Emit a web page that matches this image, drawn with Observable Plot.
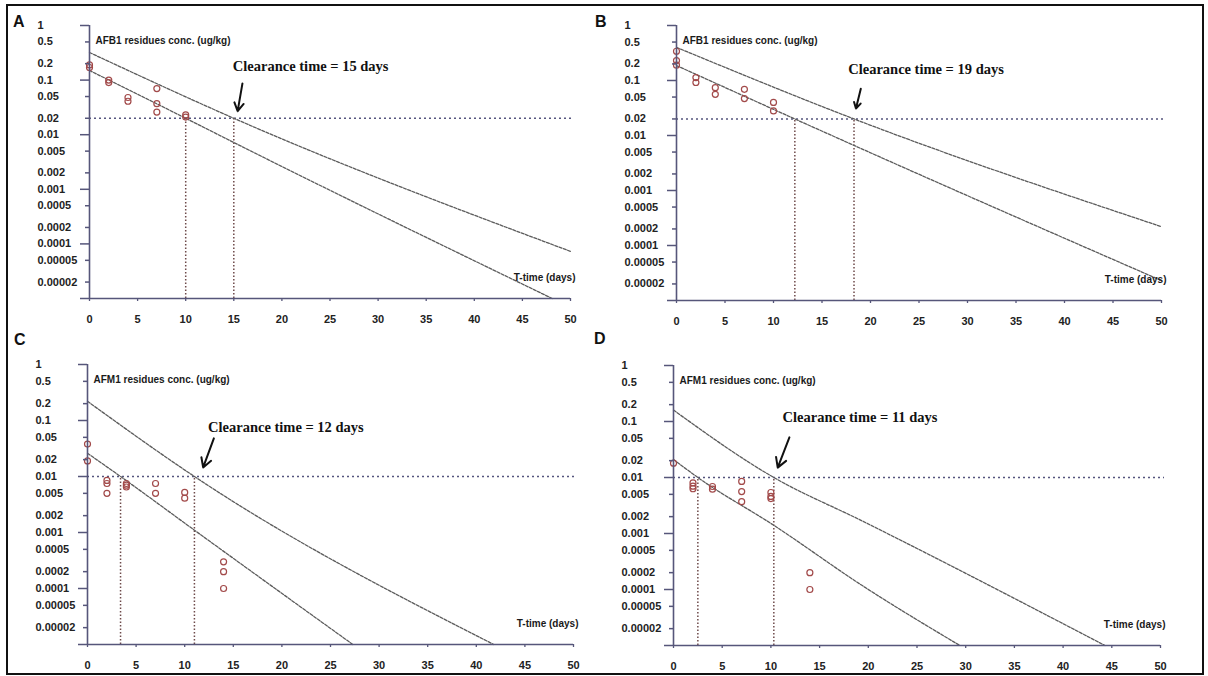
<!DOCTYPE html>
<html><head><meta charset="utf-8">
<script src="https://cdn.jsdelivr.net/npm/d3@7"></script>
<script src="https://cdn.jsdelivr.net/npm/@observablehq/plot@0.6"></script>
<style>
body{margin:0;background:#fff;}
#wrap{position:relative;width:1208px;height:676px;overflow:hidden;background:#fff;}
#frame{position:absolute;left:6px;top:4px;width:1198px;height:671px;border:2.5px solid #111;border-right-width:2px;border-bottom-width:2px;box-sizing:border-box;}
.panel{position:absolute;}
.letter{position:absolute;font:bold 16px "Liberation Sans",Arial,sans-serif;color:#111;line-height:16px;}
</style></head><body>
<div id="wrap"><div id="frame"></div></div>
<script>
// ---- tick values / labels ----
const xTicks = [0,5,10,15,20,25,30,35,40,45,50];
const yTickValues = [1,0.5,0.2,0.1,0.05,0.02,0.01,0.005,0.002,0.001,0.0005,0.0002,0.0001,0.00005,0.00002];
const yTickLabels = ["1","0.5","0.2","0.1","0.05","0.02","0.01","0.005","0.002","0.001","0.0005","0.0002","0.0001","0.00005","0.00002"];
const decadeTicks = [1,0.1,0.01,0.001,0.0001];
const minorTicks = [0.5,0.2,0.05,0.02,0.005,0.002,0.0005,0.0002,0.00005,0.00002];

// ---- Panel A (AFB1) ----
const daysA = [0,0,2,2,4,4,7,7,7,10,10];
const concA = [0.19,0.17,0.1,0.09,0.048,0.041,0.07,0.037,0.026,0.023,0.021];
const upperDaysA = [0,15,50];
const upperConcA = [0.32,0.02,7.3e-5];
const lowerDaysA = [0,10,15,48.1];
const lowerConcA = [0.15,0.02,0.0072,1e-5];
const limitA = 0.02, verticalsA = [10,15];

// ---- Panel B (AFB1) ----
const daysB = [0,0,0,2,2,4,4,7,7,10,10];
const concB = [0.34,0.23,0.19,0.113,0.092,0.074,0.056,0.069,0.047,0.04,0.028];
const upperDaysB = [0,18.3,50];
const upperConcB = [0.40,0.02,2.2e-4];
const lowerDaysB = [0,12.2,18.3,50];
const lowerConcB = [0.187,0.02,0.0066,2.3e-5];
const limitB = 0.02, verticalsB = [12.2,18.3];

// ---- Panel C (AFM1) ----
const daysC = [0,0,2,2,2,4,4,4,7,7,10,10,14,14,14];
const concC = [0.038,0.019,0.0085,0.0075,0.005,0.0075,0.007,0.0065,0.0075,0.005,0.0052,0.0041,0.0003,0.0002,0.0001];
const upperDaysC = [0,11,41.8];
const upperConcC = [0.22,0.01,1e-5];
const lowerDaysC = [0,3.4,11,27.3];
const lowerConcC = [0.026,0.01,0.0011,1e-5];
const limitC = 0.01, verticalsC = [3.4,11];

// ---- Panel D (AFM1) ----
const daysD = [0,2,2,2,4,4,7,7,7,10,10,10,14,14];
const concD = [0.018,0.008,0.007,0.0063,0.0069,0.0062,0.0085,0.0056,0.0037,0.0054,0.0046,0.0042,0.0002,0.0001];
const upperDaysD = [0,10.3,19.3,44.3];
const upperConcD = [0.16,0.01,0.0017,1e-5];
const lowerDaysD = [0,2.5,10.3,19.3,29.4];
const lowerConcD = [0.021,0.01,0.0014,1.2e-4,1e-5];
const limitD = 0.01, verticalsD = [2.5,10.3];

const zip = (xs, ys) => xs.map((x, i) => ({x, y: ys[i]}));

const axisColor = "#56567a";
const lineColor = "#5c5c5c";
const dotColor = "#a24a4a";
const vColor = "#6e4a4a";
const hColor = "#55557e";
const sans = '"Liberation Sans", Arial, sans-serif';
const serif = '"Liberation Serif", "Times New Roman", serif';

function panel(c) {
  return Plot.plot({
    width: c.w, height: c.h,
    marginLeft: c.ml, marginRight: c.mr, marginTop: c.mt, marginBottom: c.mb,
    x: {domain: [0, 50], axis: null},
    y: {type: "log", domain: [1e-5, 1], axis: null},
    style: {background: "transparent", overflow: "visible", fontFamily: sans},
    marks: [
      // dotted reference lines
      Plot.ruleY([c.limit], {x1: 0, x2: 50, insetRight: -4, stroke: hColor, strokeWidth: 1.5, strokeDasharray: "2,3"}),
      Plot.ruleX(c.verticals, {y1: 1e-5, y2: c.limit, stroke: vColor, strokeWidth: 1.5, strokeDasharray: "1.5,2"}),
      // confidence lines
      Plot.line(c.upper, {x: "x", y: "y", stroke: lineColor, strokeWidth: 1.3, strokeDasharray: "3,1.5", curve: "monotone-x"}),
      Plot.line(c.lower, {x: "x", y: "y", stroke: lineColor, strokeWidth: 1.3, strokeDasharray: "3,1.5", curve: "monotone-x"}),
      // data points
      Plot.dot(c.points, {x: "x", y: "y", r: 3, stroke: dotColor, strokeWidth: 1.2, fill: "none"}),
      // axes
      Plot.ruleX([0], {y1: 1e-5, y2: 1, stroke: axisColor, strokeWidth: 1.6}),
      Plot.ruleY([1e-5], {x1: 0, x2: 50, insetLeft: -9, stroke: axisColor, strokeWidth: 1.6}),
      Plot.axisY({ticks: decadeTicks, tickSize: 9, tickFormat: () => "", stroke: axisColor, strokeWidth: 1.5}),
      Plot.axisY({ticks: minorTicks, tickSize: 4, tickFormat: () => "", stroke: axisColor, strokeWidth: 1.5}),
      Plot.axisX({ticks: xTicks, tickSize: 3, tickFormat: () => "", stroke: axisColor, strokeWidth: 1.3}),
      Plot.text(yTickValues, {y: d => d, text: (d, i) => yTickLabels[i], frameAnchor: "left", textAnchor: "start", dx: -52, fontSize: 11, fontWeight: "bold", fill: "#222"}),
      Plot.text(xTicks, {x: d => d, text: d => String(d), frameAnchor: "bottom", dy: 24, fontSize: 11, fontWeight: "bold", fill: "#222"}),
      Plot.text([c.ytitle], {frameAnchor: "top-left", textAnchor: "start", dx: 6, dy: 11, fontSize: 10, fontWeight: "bold", fill: "#1a1a1a"}),
      Plot.text(["T-time (days)"], {frameAnchor: "bottom-right", textAnchor: "end", dx: 5, dy: -18, fontSize: 10, fontWeight: "bold", fill: "#1a1a1a"}),
      // annotation
      Plot.text([c.note], {x: d => d.x, y: d => d.y, text: d => d.label, textAnchor: "start", fontFamily: serif, fontSize: 14.5, fontWeight: "bold", fill: "#111"}),
      Plot.arrow([c.arrow], {x1: "x1", y1: "y1", x2: "x2", y2: "y2", stroke: "#111", strokeWidth: 2, headLength: 9, bend: 0})
    ]
  });
}

const panels = [
  {left: 0, top: 0, w: 604, h: 338, ml: 89, mr: 34, mt: 25, mb: 40, letter: "A", lx: 13, ly: 14,
   ytitle: "AFB1 residues conc. (ug/kg)", limit: limitA, verticals: verticalsA,
   points: zip(daysA, concA), upper: zip(upperDaysA, upperConcA), lower: zip(lowerDaysA, lowerConcA),
   note: {x: 14.9, y: 0.177, label: "Clearance time = 15 days"},
   arrow: {x1: 15.9, y1: 0.087, x2: 15.4, y2: 0.027}},
  {left: 604, top: 0, w: 604, h: 338, ml: 72, mr: 47, mt: 25, mb: 38, letter: "B", lx: 595, ly: 14,
   ytitle: "AFB1 residues conc. (ug/kg)", limit: limitB, verticals: verticalsB,
   points: zip(daysB, concB), upper: zip(upperDaysB, upperConcB), lower: zip(lowerDaysB, lowerConcB),
   note: {x: 17.7, y: 0.158, label: "Clearance time = 19 days"},
   arrow: {x1: 19.0, y1: 0.071, x2: 18.5, y2: 0.031}},
  {left: 0, top: 338, w: 604, h: 338, ml: 87, mr: 31, mt: 26, mb: 32, letter: "C", lx: 14, ly: 332,
   ytitle: "AFM1 residues conc. (ug/kg)", limit: limitC, verticals: verticalsC,
   points: zip(daysC, concC), upper: zip(upperDaysC, upperConcC), lower: zip(lowerDaysC, lowerConcC),
   note: {x: 12.4, y: 0.075, label: "Clearance time = 12 days"},
   arrow: {x1: 13.0, y1: 0.048, x2: 11.9, y2: 0.0145}},
  {left: 604, top: 338, w: 604, h: 338, ml: 69, mr: 48, mt: 27, mb: 31, letter: "D", lx: 594, ly: 331,
   ytitle: "AFM1 residues conc. (ug/kg)", limit: limitD, verticals: verticalsD,
   points: zip(daysD, concD), upper: zip(upperDaysD, upperConcD), lower: zip(lowerDaysD, lowerConcD),
   note: {x: 11.2, y: 0.118, label: "Clearance time = 11 days"},
   arrow: {x1: 11.9, y1: 0.052, x2: 10.7, y2: 0.015}}
];

const wrap = document.getElementById("wrap");
for (const c of panels) {
  const div = document.createElement("div");
  div.className = "panel";
  div.style.left = c.left + "px";
  div.style.top = c.top + "px";
  div.appendChild(panel(c));
  wrap.appendChild(div);
  const L = document.createElement("div");
  L.className = "letter";
  L.textContent = c.letter;
  L.style.left = c.lx + "px";
  L.style.top = c.ly + "px";
  wrap.appendChild(L);
}
</script>
</body></html>
